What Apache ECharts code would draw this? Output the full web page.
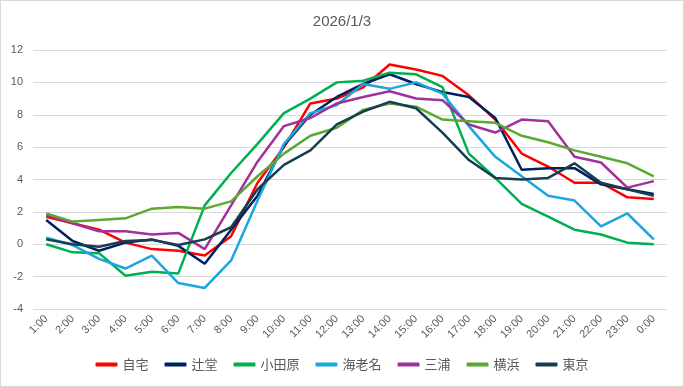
<!DOCTYPE html>
<html><head><meta charset="utf-8">
<script src="https://cdn.jsdelivr.net/npm/echarts@6/dist/echarts.min.js"></script>
<style>html,body{margin:0;padding:0;background:#fff}#c{width:684px;height:387px;box-sizing:border-box;border:1px solid #d9d9d9}</style>
</head><body><div id="c"></div>
<script>
const title = '2026/1/3';
const categories = ['1:00','2:00','3:00','4:00','5:00','6:00','7:00','8:00','9:00','10:00','11:00','12:00','13:00','14:00','15:00','16:00','17:00','18:00','19:00','20:00','21:00','22:00','23:00','0:00'];
const seriesNames = ['自宅','辻堂','小田原','海老名','三浦','横浜','東京'];
const jitaku   = [1.7,1.3,0.9,0.1,-0.3,-0.4,-0.7,0.5,3.8,6.0,8.7,9.0,9.7,11.1,10.8,10.4,9.2,7.7,5.6,4.8,3.8,3.8,2.9,2.8];
const tsujido  = [1.5,0.2,-0.4,0.1,0.3,-0.1,-1.2,0.9,3.0,6.1,8.0,9.1,9.9,10.5,9.9,9.4,9.1,7.8,4.6,4.7,4.7,3.7,3.4,3.1];
const odawara  = [0.0,-0.5,-0.55,-1.95,-1.7,-1.8,2.4,4.4,6.2,8.1,9.0,10.0,10.1,10.6,10.5,9.7,5.6,4.1,2.5,1.7,0.9,0.6,0.1,0.0];
const ebina    = [0.4,-0.05,-0.9,-1.5,-0.7,-2.4,-2.7,-1.0,2.7,6.2,8.1,8.6,9.9,9.6,10.0,9.3,7.3,5.4,4.2,3.0,2.7,1.1,1.9,0.3];
const miura    = [1.8,1.3,0.8,0.8,0.6,0.7,-0.3,2.4,5.1,7.3,7.8,8.7,9.1,9.45,9.0,8.9,7.4,6.9,7.7,7.6,5.4,5.05,3.5,3.9];
const yokohama = [1.9,1.4,1.5,1.6,2.2,2.3,2.2,2.65,4.2,5.6,6.7,7.2,8.3,8.7,8.5,7.7,7.6,7.5,6.7,6.3,5.8,5.4,5.0,4.2];
const tokyo    = [0.3,0.0,-0.15,0.2,0.27,-0.05,0.3,1.05,3.4,4.9,5.8,7.4,8.2,8.8,8.4,6.9,5.2,4.1,4.0,4.1,5.0,3.8,3.4,3.0];
const allData = [jitaku,tsujido,odawara,ebina,miura,yokohama,tokyo];
const colors = ['#ff0000','#002060','#00b050','#1aa7e0','#a0309a','#5aaa32','#173e50'];
const yTicks = {min:-4,max:12,interval:2};

const chart = echarts.init(document.getElementById('c'));
chart.setOption({
  animation:false,
  backgroundColor:'#fff',
  title:{text:title,left:'center',top:8,textStyle:{fontFamily:'Liberation Sans, Arial, sans-serif',fontSize:15,fontWeight:'normal',color:'#595959'}},
  grid:{left:32,right:16,top:49,bottom:77,containLabel:false},
  legend:{bottom:10,left:'center',itemWidth:22,itemHeight:4,itemGap:16,icon:'roundRect',
    textStyle:{fontFamily:'Noto Sans CJK JP, sans-serif',fontSize:13,color:'#595959'},data:seriesNames},
  xAxis:{type:'category',data:categories,boundaryGap:true,
    axisLine:{show:false},axisTick:{show:false},
    axisLabel:{rotate:45,interval:0,color:'#595959',fontSize:11,fontFamily:'Liberation Sans, Arial, sans-serif',margin:8}},
  yAxis:{type:'value',min:yTicks.min,max:yTicks.max,interval:yTicks.interval,
    axisLine:{show:false},axisTick:{show:false},
    axisLabel:{color:'#595959',fontSize:11,fontFamily:'Liberation Sans, Arial, sans-serif',margin:10},
    splitLine:{lineStyle:{color:'#d9d9d9',width:1}}},
  series: seriesNames.map((n,i)=>({name:n,type:'line',data:allData[i],symbol:'none',
    lineStyle:{width:2.5,color:colors[i]},itemStyle:{color:colors[i]}}))
});
</script></body></html>
